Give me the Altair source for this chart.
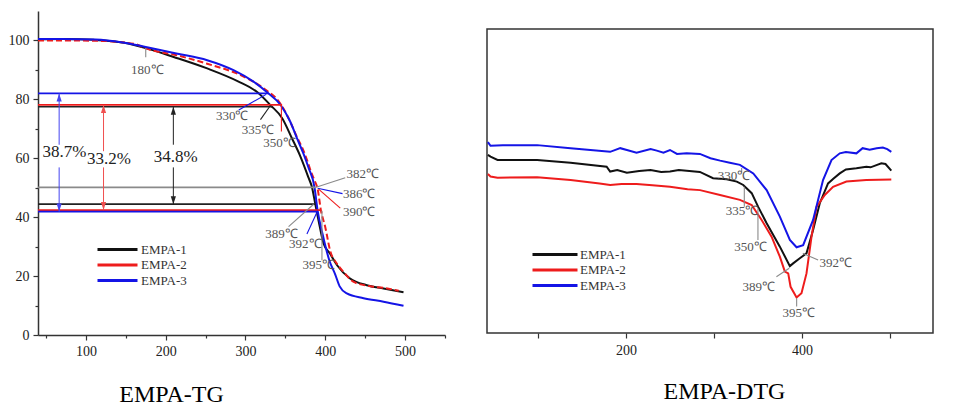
import altair as alt
import pandas as pd

SERIF = "Liberation Serif"
SERIES = ["EMPA-1", "EMPA-2", "EMPA-3"]
LINE_COLORS = ["#111111", "#ee1c1c", "#1414e6"]
REF_COLORS = {"EMPA-1": "#222222", "EMPA-2": "#ee1c1c", "EMPA-3": "#1414e6", "ref": "#8a8a8a"}
ARROW_COLORS = {"EMPA-1": "#222222", "EMPA-2": "#f05050", "EMPA-3": "#4545f0"}

# ---------------- TG curves: temperature (°C) vs residual mass (%) ----------------
tg1_T = [40, 70, 110, 148, 175, 210, 252, 290, 315, 331, 346, 358, 369, 379, 383.4, 387.5,
         391.6, 397.9, 406, 415, 431, 452, 473, 498]
tg1_w = [100.4, 100.5, 100.2, 99.2, 97.4, 94.4, 90.5, 86.2, 82.4, 78.1, 73.6, 66.9, 60.5, 53.4,
         50.1, 44.4, 38.8, 31.0, 27.6, 23.6, 19.2, 16.9, 15.8, 14.5]
tg2_T = [40, 70, 112, 160, 175, 215, 252, 294, 323, 342, 352, 365, 372, 377, 382, 386.5, 390.4,
         394.6, 400, 406, 414.6, 423, 435, 455, 473, 492]
tg2_w = [100.0, 100.0, 99.9, 98.9, 97.3, 94.9, 92.1, 88.2, 83.7, 79.2, 74.7, 66.9, 63.0, 59.5,
         55.5, 52.5, 49.6, 42.2, 36.6, 28.7, 24.2, 21.4, 18.1, 16.6, 16.0, 15.0]
tg3_T = [40, 70, 112, 146, 175, 215, 252, 285, 310, 327, 344, 356, 365, 373, 379, 386.5, 390.4,
         397, 405, 412.5, 418, 427, 448, 473, 498]
tg3_w = [100.5, 100.5, 100.3, 99.3, 97.8, 95.5, 93.3, 89.9, 86.0, 82.4, 78.1, 72.5, 66.5, 61.3,
         56.8, 50.1, 42.2, 33.8, 25.4, 20.5, 16.5, 14.1, 12.5, 11.3, 9.9]

# horizontal reference lines of the TG panel
hl_series = ["EMPA-3", "EMPA-2", "EMPA-1", "ref", "EMPA-1", "EMPA-2", "EMPA-3"]
hl_v = [82.0, 78.1, 77.5, 50.1, 44.4, 42.4, 41.9]
hl_T1 = [40, 40, 40, 40, 40, 40, 40]
hl_T2 = [329, 345.9, 333.4, 387.5, 387.5, 394.6, 390.4]

# mass-loss arrows and their labels
arr_series = ["EMPA-3", "EMPA-2", "EMPA-1"]
arr_T = [66.5, 122.1, 209.6]
arr_top = [82.0, 78.1, 77.5]
arr_bot = [41.9, 42.4, 44.4]
arr_gap_top = [64.6, 62.4, 64.6]
arr_gap_bot = [56.9, 56.9, 56.9]
pct_label = ["38.7%", "33.2%", "34.8%"]
pct_T = [73.1, 129, 212.5]
pct_v = [62.0, 59.6, 60.3]

# temperature annotations of the TG panel
ann_tg_label = ["180℃", "330℃", "335℃", "350℃", "382℃", "386℃", "390℃", "389℃", "392℃", "395℃"]
ann_tg_T = [177, 283.4, 315.6, 342.5, 446.9, 442.5, 442.5, 345, 375, 391.9]
ann_tg_v = [90.1, 74.2, 69.7, 65.2, 54.5, 47.8, 41.8, 34.3, 31.0, 23.6]
ld_tg_series = ["ref", "EMPA-3", "EMPA-1", "EMPA-2", "ref", "EMPA-3", "EMPA-2", "ref", "EMPA-3", "ref"]
ld_tg_T1 = [175, 291.6, 318.75, 345, 425, 421.6, 418.75, 354, 377, 395.8]
ld_tg_v1 = [97.4, 76.4, 73.1, 78.1, 53.4, 48.0, 43.1, 36.8, 34.3, 42.2]
ld_tg_T2 = [175, 325.9, 331.25, 345, 387.5, 390.4, 391.6, 385.4, 390.4, 395.8]
ld_tg_v2 = [94.3, 81.7, 77.9, 69.1, 50.1, 49.8, 49.5, 44.4, 42.2, 25.4]

# ---------------- DTG curves (arbitrary units) ----------------
dtg1_T = [43, 46, 54, 99, 137, 178, 182, 190, 201, 215, 228, 240, 250, 260, 269, 284, 299, 314.5,
          326, 333.3, 342.9, 350.3, 359.9, 374.9, 386.3, 390, 397.6, 405.2, 412.7, 420.3, 429.7,
          436, 443, 450, 461.9, 473.2, 478, 490.3, 495, 501.6]
dtg1_v = [58.6, 58.0, 56.9, 56.9, 56.0, 54.7, 53.1, 53.6, 52.7, 53.3, 53.6, 53.0, 53.1, 53.6, 53.4,
          53.0, 50.9, 50.6, 49.8, 48.7, 46.0, 41.5, 36.1, 28.4, 22.0, 22.9, 24.6, 26.2, 33.9, 42.7,
          49.2, 50.8, 52.5, 53.8, 54.2, 54.7, 54.5, 55.8, 55.6, 53.4]
dtg2_T = [43, 46, 54, 99, 137, 170, 182, 195, 212, 230, 250, 270, 284.2, 306.9, 329.5, 342.9,
          354.2, 365.5, 374.9, 380.6, 384.4, 387.1, 393.9, 399.5, 405.2, 410.9, 416.6, 426, 435.4,
          450.6, 473.2, 501.6]
dtg2_v = [52.3, 51.5, 51.1, 51.2, 50.3, 49.2, 48.7, 49.0, 49.0, 48.6, 48.1, 47.3, 47.0, 45.4, 43.8,
          42.1, 37.2, 31.7, 25.1, 20.2, 19.6, 15.2, 11.7, 13.1, 19.6, 31.7, 41.5, 45.4, 48.1, 49.8,
          50.3, 50.5]
dtg3_T = [43, 46, 60, 99, 137, 182, 193.5, 201, 212, 228, 235, 242.6, 250, 258, 269, 284, 296, 307,
          318, 329.5, 344.7, 359.9, 374.9, 386.3, 393.9, 401.4, 412.7, 424, 433.6, 443, 450, 461.9,
          469, 477, 485, 492, 497, 501.6]
dtg3_v = [62.8, 61.6, 61.8, 61.8, 60.8, 59.6, 60.8, 60.2, 59.3, 60.5, 60.0, 59.3, 60.2, 58.9, 59.1,
          58.9, 57.5, 56.7, 56.0, 55.3, 52.5, 47.0, 38.3, 30.6, 28.2, 28.9, 37.2, 50.3, 56.9, 59.1,
          59.5, 59.1, 60.8, 60.3, 60.8, 61.0, 60.5, 59.6]

ann_dtg_label = ["330℃", "335℃", "350℃", "389℃", "392℃", "395℃"]
ann_dtg_T = [322.8, 332, 341.5, 351, 438.5, 396.5]
ann_dtg_v = [51.6, 40.1, 28.3, 15.1, 23.0, 6.7]
ld_dtg_T1 = [331.5, 334.5, 350, 385.5, 401, 394]
ld_dtg_v1 = [54.3, 48.1, 41.0, 21.3, 26.2, 11.4]
ld_dtg_T2 = [331.5, 334.5, 350, 371, 418.4, 394]
ld_dtg_v2 = [52.8, 41.5, 30.6, 18.5, 24.0, 8.7]

TG_X_TICKS = [50, 100, 150, 200, 250, 300, 350, 400, 450, 500, 550]
TG_Y_TICKS = [0, 10, 20, 30, 40, 50, 60, 70, 80, 90, 100]
DTG_X_TICKS = [100, 200, 300, 400, 500]


def curve(T, v, name):
    return pd.DataFrame({"T": T, "v": v, "series": name})


# ---------------- shared encodings ----------------
axis_style = dict(domainColor="#333333", domainWidth=1.5, tickColor="#333333", tickWidth=1.2,
                  labelFont=SERIF, labelFontSize=14, labelColor="#222222", grid=False,
                  labelOverlap=False)

tg_x_axis = alt.Axis(values=TG_X_TICKS, format="d",
                     labelExpr="datum.value % 100 === 0 && datum.value <= 500 ? datum.label : ''",
                     tickSize={"condition": {"test": "datum.value % 100 === 0", "value": 5}, "value": 3},
                     labelPadding=4, title="EMPA-TG", titleFont=SERIF, titleFontSize=24,
                     titleFontWeight="normal", titleColor="#000000", titleX=133, titleY=66,
                     titleAlign="center", titleBaseline="alphabetic", **axis_style)
tg_y_axis = alt.Axis(values=TG_Y_TICKS, format="d",
                     labelExpr="datum.value % 20 === 0 ? datum.label : ''",
                     tickSize={"condition": {"test": "datum.value % 20 === 0", "value": 5}, "value": 3},
                     labelPadding=4, title=None, **axis_style)

tg_x = alt.X("T:Q", scale=alt.Scale(domain=[40, 550], nice=False, zero=False), axis=tg_x_axis)
tg_y = alt.Y("v:Q", scale=alt.Scale(domain=[0, 110], nice=False, zero=False), axis=tg_y_axis)


def legend(x, y, path, off):
    return alt.Legend(orient="none", legendX=x, legendY=y, title=None, symbolType=path,
                      symbolSize=100, symbolStrokeWidth=3, labelFont=SERIF, labelFontSize=13,
                      labelColor="#333333", labelOffset=off, rowPadding=1.5, padding=0)


tg_color = alt.Color("series:N", scale=alt.Scale(domain=SERIES, range=LINE_COLORS),
                     legend=legend(58, 232, "M-1,0L7,0", 32))

# ---------------- TG panel ----------------
hl_df = pd.DataFrame({"T": hl_T1, "T2": hl_T2, "v": hl_v,
                      "col": [REF_COLORS[s] for s in hl_series]})
hlines = alt.Chart(hl_df).mark_rule(strokeWidth=1.7).encode(
    x=tg_x, x2="T2:Q", y=tg_y, stroke=alt.Stroke("col:N", scale=None))

seg_T, seg_v1, seg_v2, seg_c = [], [], [], []
for s, t, a, b, g1, g2 in zip(arr_series, arr_T, arr_top, arr_bot, arr_gap_top, arr_gap_bot):
    seg_T += [t, t]
    seg_v1 += [a, g2]
    seg_v2 += [g1, b]
    seg_c += [ARROW_COLORS[s], ARROW_COLORS[s]]
arr_df = pd.DataFrame({"T": seg_T, "v": seg_v1, "v2": seg_v2, "col": seg_c})
arr_lines = alt.Chart(arr_df).mark_rule(strokeWidth=1).encode(
    x=tg_x, y=tg_y, y2="v2:Q", stroke=alt.Stroke("col:N", scale=None))

head_up_df = pd.DataFrame({"T": arr_T, "v": arr_top, "col": [ARROW_COLORS[s] for s in arr_series]})
head_dn_df = pd.DataFrame({"T": arr_T, "v": arr_bot, "col": [ARROW_COLORS[s] for s in arr_series]})
head_up = alt.Chart(head_up_df).mark_point(shape="M0,0L-0.65,2L0.65,2Z", filled=True, size=64,
                                           opacity=1, strokeWidth=0).encode(
    x=tg_x, y=tg_y, fill=alt.Fill("col:N", scale=None))
head_dn = alt.Chart(head_dn_df).mark_point(shape="M0,0L-0.65,-2L0.65,-2Z", filled=True, size=64,
                                           opacity=1, strokeWidth=0).encode(
    x=tg_x, y=tg_y, fill=alt.Fill("col:N", scale=None))

pct_df = pd.DataFrame({"T": pct_T, "v": pct_v, "label": pct_label})
pct_text = alt.Chart(pct_df).mark_text(font=SERIF, fontSize=17, color="#222222").encode(
    x=tg_x, y=tg_y, text="label:N")

ld_tg_df = pd.DataFrame({"T": ld_tg_T1, "v": ld_tg_v1, "T2": ld_tg_T2, "v2": ld_tg_v2,
                         "col": [REF_COLORS[s] for s in ld_tg_series]})
ld_tg = alt.Chart(ld_tg_df).mark_rule(strokeWidth=1.1).encode(
    x=tg_x, y=tg_y, x2="T2:Q", y2="v2:Q", stroke=alt.Stroke("col:N", scale=None))

ann_tg_df = pd.DataFrame({"T": ann_tg_T, "v": ann_tg_v, "label": ann_tg_label})
ann_tg = alt.Chart(ann_tg_df).mark_text(font=SERIF, fontSize=13, color="#555555").encode(
    x=tg_x, y=tg_y, text="label:N")

tg_black = alt.Chart(curve(tg1_T, tg1_w, "EMPA-1")).mark_line(
    strokeWidth=2, interpolate="monotone").encode(x=tg_x, y=tg_y, color=tg_color)
tg_red = alt.Chart(curve(tg2_T, tg2_w, "EMPA-2")).mark_line(
    strokeWidth=2, strokeDash=[6, 3], interpolate="monotone").encode(x=tg_x, y=tg_y, color=tg_color)
tg_blue = alt.Chart(curve(tg3_T, tg3_w, "EMPA-3")).mark_line(
    strokeWidth=2, interpolate="monotone").encode(x=tg_x, y=tg_y, color=tg_color)

left = alt.layer(tg_black, tg_red, tg_blue, hlines, arr_lines, head_up, head_dn, ld_tg,
                 pct_text, ann_tg).properties(
    width=407, height=324, view=alt.ViewBackground(strokeOpacity=0))

# ---------------- DTG panel ----------------
dtg_x_axis = alt.Axis(values=DTG_X_TICKS, format="d",
                      labelExpr="datum.value % 200 === 0 ? datum.label : ''",
                      tickSize=5, domain=False, labelPadding=5, title="EMPA-DTG",
                      titleFont=SERIF, titleFontSize=24, titleFontWeight="normal",
                      titleColor="#000000", titleX=237, titleY=65, titleAlign="center",
                      titleBaseline="alphabetic", **axis_style)
dtg_x = alt.X("T:Q", scale=alt.Scale(domain=[42, 549], nice=False, zero=False), axis=dtg_x_axis)
dtg_y = alt.Y("v:Q", scale=alt.Scale(domain=[0, 100], nice=False, zero=False), axis=None)
dtg_color = alt.Color("series:N", scale=alt.Scale(domain=SERIES, range=LINE_COLORS),
                      legend=legend(44, 219, "M-1,0L8,0", 36))

dtg_df = pd.concat([curve(dtg1_T, dtg1_v, "EMPA-1"), curve(dtg2_T, dtg2_v, "EMPA-2"),
                    curve(dtg3_T, dtg3_v, "EMPA-3")])
dtg_lines = alt.Chart(dtg_df).mark_line(strokeWidth=2).encode(
    x=dtg_x, y=dtg_y, color=dtg_color, detail="series:N")

ld_dtg_df = pd.DataFrame({"T": ld_dtg_T1, "v": ld_dtg_v1, "T2": ld_dtg_T2, "v2": ld_dtg_v2})
ld_dtg = alt.Chart(ld_dtg_df).mark_rule(strokeWidth=1.1, color="#8a8a8a").encode(
    x=dtg_x, y=dtg_y, x2="T2:Q", y2="v2:Q")
ann_dtg_df = pd.DataFrame({"T": ann_dtg_T, "v": ann_dtg_v, "label": ann_dtg_label})
ann_dtg = alt.Chart(ann_dtg_df).mark_text(font=SERIF, fontSize=13, color="#555555").encode(
    x=dtg_x, y=dtg_y, text="label:N")

dtg_panel = alt.layer(dtg_lines, ld_dtg, ann_dtg).properties(
    width=446, height=304,
    view=alt.ViewBackground(stroke="#333333", strokeWidth=1.5))

# invisible spacer that lowers the DTG frame below the top of the TG axis
spacer = alt.Chart(pd.DataFrame({"s": [0]})).mark_point(opacity=0).encode(
    x=alt.X("s:Q", axis=None), y=alt.Y("s:Q", axis=None)).properties(
    width=446, height=1, view=alt.ViewBackground(strokeOpacity=0))

right = alt.vconcat(spacer, dtg_panel, spacing=13).resolve_scale(
    x="independent", y="independent", color="independent").resolve_legend(color="independent")

chart = alt.hconcat(left, right, spacing=37).resolve_scale(
    color="independent").resolve_legend(color="independent").properties(
    padding=0, background="white")

chart.save("out.html", embed_options={"renderer": "svg", "actions": False})
